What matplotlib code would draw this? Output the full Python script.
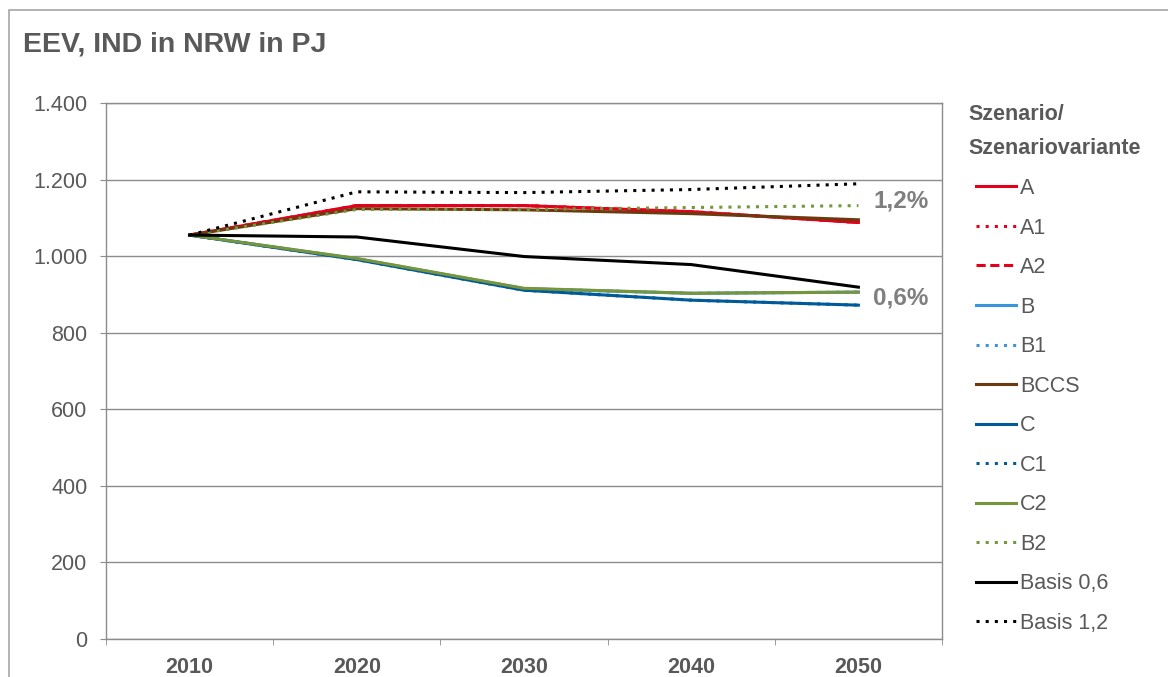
import matplotlib
matplotlib.use('Agg')
import matplotlib.pyplot as plt
from matplotlib.patches import Rectangle
from matplotlib.ticker import FuncFormatter

plt.rcParams['font.family'] = ['Liberation Sans', 'DejaVu Sans']

# data (PJ)
years = ['2010', '2020', '2030', '2040', '2050']
val_a = [1055, 1132, 1132, 1116, 1088]
val_a1 = [1055, 1132, 1132, 1116, 1088]
val_a2 = [1055, 1132, 1132, 1116, 1088]
val_b = [1055, 993, 915, 903, 906]
val_b1 = [1055, 993, 915, 903, 906]
val_bccs = [1055, 1124, 1121, 1111, 1095]
val_c = [1055, 991, 911, 885, 872]
val_c1 = [1055, 991, 911, 885, 872]
val_c2 = [1055, 994, 916, 903, 906]
val_b2 = [1055, 1122, 1122, 1127, 1132]
basis_06 = [1055, 1050, 999, 978, 919]
basis_12 = [1055, 1168, 1166, 1174, 1189]

labels = ['A', 'A1', 'A2', 'B', 'B1', 'BCCS', 'C', 'C1', 'C2', 'B2',
          'Basis 0,6', 'Basis 1,2']

grey = '#595959'
red = '#E2001A'
lblue = '#3A96DC'
brown = '#6B3A0E'
dblue = '#005A9A'
green = '#76963C'

dot = (0, (1, 2))
styles = [
    (val_a, red, '-'),
    (val_a1, red, dot),
    (val_a2, red, (0, (3, 1.5))),
    (val_b, lblue, '-'),
    (val_b1, lblue, dot),
    (val_bccs, brown, '-'),
    (val_c, dblue, '-'),
    (val_c1, dblue, dot),
    (val_c2, green, '-'),
    (val_b2, green, dot),
    (basis_06, 'black', '-'),
    (basis_12, 'black', dot),
]

fig = plt.figure(figsize=(11.68, 6.77), dpi=100)
ax = fig.add_axes([106 / 1168, 1 - 639 / 677, 836 / 1168, 536 / 677])

x = list(range(len(years)))
for (vals, col, ls), lab in zip(styles, labels):
    ax.plot(x, vals, color=col, linestyle=ls, linewidth=2.2, label=lab)

ax.set_xlim(-0.5, 4.5)
ax.set_ylim(0, 1400)
ax.set_yticks(range(0, 1401, 200))
ax.yaxis.set_major_formatter(FuncFormatter(lambda v, p: f'{int(v):,}'.replace(',', '.')))
ax.set_xticks(x)
ax.set_xticklabels(years, fontweight='bold')
ax.set_xticks([i - 0.5 for i in range(6)], minor=True)
ax.tick_params(axis='x', which='major', length=0, pad=13, labelsize=15.5, labelcolor=grey)
ax.tick_params(axis='x', which='minor', length=4.5, color='#8C8C8C', direction='out')
ax.tick_params(axis='y', length=4.5, color='#8C8C8C', labelsize=15.5, labelcolor=grey, pad=9)
ax.grid(axis='y', color='#8C8C8C', linewidth=1)
ax.set_axisbelow(True)
for s in ax.spines.values():
    s.set_color('#8C8C8C')
    s.set_linewidth(1)

ax.text(4.09, 1127, '1,2%', fontsize=17.5, fontweight='bold', color='#7F7F7F',
        va='baseline', clip_on=False)
ax.text(4.09, 873, '0,6%', fontsize=17.5, fontweight='bold', color='#7F7F7F',
        va='baseline', clip_on=False)

# outer chart frame
fig.patches.append(Rectangle((9 / 1168, -0.05), 1.1, 0.985 + 0.05, transform=fig.transFigure,
                             fill=False, edgecolor='#A6A6A6', linewidth=1.2))

fig.text(23 / 1168, 1 - 51 / 677, 'EEV, IND in NRW in PJ', fontsize=20.5, fontweight='bold',
         color=grey, va='baseline')

fig.text(968 / 1168, 1 - 154 / 677, 'Szenario/\nSzenariovariante', fontsize=15.5,
         fontweight='bold', color=grey, va='baseline', linespacing=1.8)

fig.legend(loc='upper left', bbox_to_anchor=(976 / 1168, 1 - 178 / 677), frameon=False,
           fontsize=15.5, labelcolor=grey, handlelength=1.85, handletextpad=0.2,
           labelspacing=0.86, borderpad=0, borderaxespad=0)

fig.savefig('out.png', dpi=100)
